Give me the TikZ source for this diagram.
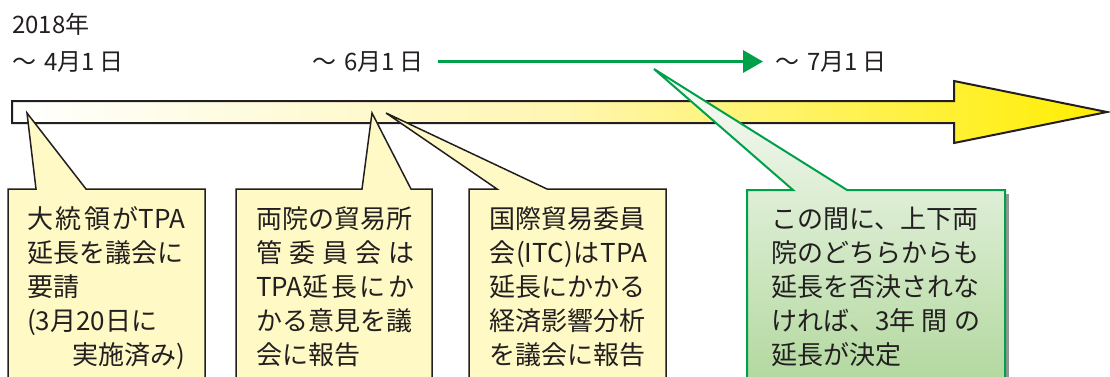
\documentclass[tikz,border=0pt]{standalone}
\usepackage{fontspec}
\setmainfont{Noto Sans CJK JP}
\usetikzlibrary{arrows.meta}
\definecolor{ink}{RGB}{35,31,32}
\definecolor{cfill}{RGB}{255,249,197}
\definecolor{gline}{RGB}{0,160,75}
\definecolor{gtop}{RGB}{250,252,249}
\definecolor{gbot}{RGB}{178,216,158}
\definecolor{barmid}{RGB}{255,246,178}
\definecolor{barend}{RGB}{255,238,0}
\definecolor{shadowc}{RGB}{150,150,150}
\begin{document}
\begin{tikzpicture}[x=1pt,y=-1pt,
  lbl/.style={anchor=base west,inner sep=0pt,text=ink,font=\fontsize{24}{28}\selectfont},
  boxtext/.style={anchor=base west,inner sep=0pt,text=ink,font=\fontsize{26}{34}\selectfont},
  ycall/.style={draw=ink,line width=1.5pt,fill=cfill,line join=miter},
  gcall/.style={draw=gline,line width=2pt,top color=gtop,bottom color=gbot,line join=miter},
  garrow/.style={draw=gline,line width=3.5pt,-{Triangle[length=20pt,width=22pt]}},
  timebar/.style={draw=ink,line width=2pt,left color=white,right color=barend,middle color=barmid,line join=miter}]
\useasboundingbox (0,0) rectangle (1110,376);
\clip (0,0) rectangle (1110,376);

% date labels
\node[lbl] (yr) at (12,33) {2018年};
\node[lbl] (d4) at (12,70) {〜\kern8pt 4月1\kern5pt 日};
\node[lbl] (d6) at (312,70) {〜\kern8pt 6月1\kern5pt 日};
\node[lbl] (d7) at (775,70) {〜\kern8pt 7月1\kern5pt 日};
\draw[garrow] ([xshift=14pt]d6.east) -- ([xshift=-12pt]d7.west);

% time bar
\path[timebar] (12,101) -- (954,101) -- (954,81) -- (1107,112) -- (954,143) -- (954,123) -- (12,123) -- cycle;

% callouts
\path[ycall] (8,385) -- (8,189) -- (36,189) -- (27,113) -- (86,189) -- (205,189) -- (205,385) -- cycle;
\path[ycall] (236,385) -- (236,189) -- (362,189) -- (372,113) -- (411,189) -- (432,189) -- (432,385) -- cycle;
\path[ycall] (469,385) -- (469,189) -- (497,189) -- (386,113) -- (547,189) -- (666,189) -- (666,385) -- cycle;
\fill[shadowc] (751,194) rectangle (1009,390);
\path[gcall] (747,385) -- (747,190) -- (793,190) -- (654,69) -- (847,190) -- (1005,190) -- (1005,385) -- cycle;

% texts
\foreach \t [count=\i] in {{大\hfill 統\hfill 領\hfill がTPA},{延長を議会に},{要請},{(3月20日に},{\hfill 実施済み)}}
  \node[boxtext] (a\i) at (27,{228+34*(\i-1)}) {\makebox[158pt][s]{\t\hfil}};
\foreach \t [count=\i] in {{両院の貿易所},{管\hfill 委\hfill 員\hfill 会\hfill は},{TPA延\hfill 長\hfill に\hfill か},{かる意見を議},{会に報告}}
  \node[boxtext] (b\i) at (256,{228+34*(\i-1)}) {\makebox[158pt][s]{\t\hfil}};
\foreach \t [count=\i] in {{国際貿易委員},{会\hfill(ITC)\hfill は\hfill TPA},{延長にかかる},{経済影響分析},{を議会に報告}}
  \node[boxtext] (c\i) at (489,{228+34*(\i-1)}) {\makebox[158pt][s]{\t\hfil}};
\foreach \t [count=\i] in {{この間に、上下両},{院のどちらからも},{延長を否決されな},{ければ、3年\hfill 間\hfill の},{延長が決定}}
  \node[boxtext] (g\i) at (771,{228+34*(\i-1)}) {\makebox[209pt][s]{\t\hfil}};
\end{tikzpicture}
\end{document}
